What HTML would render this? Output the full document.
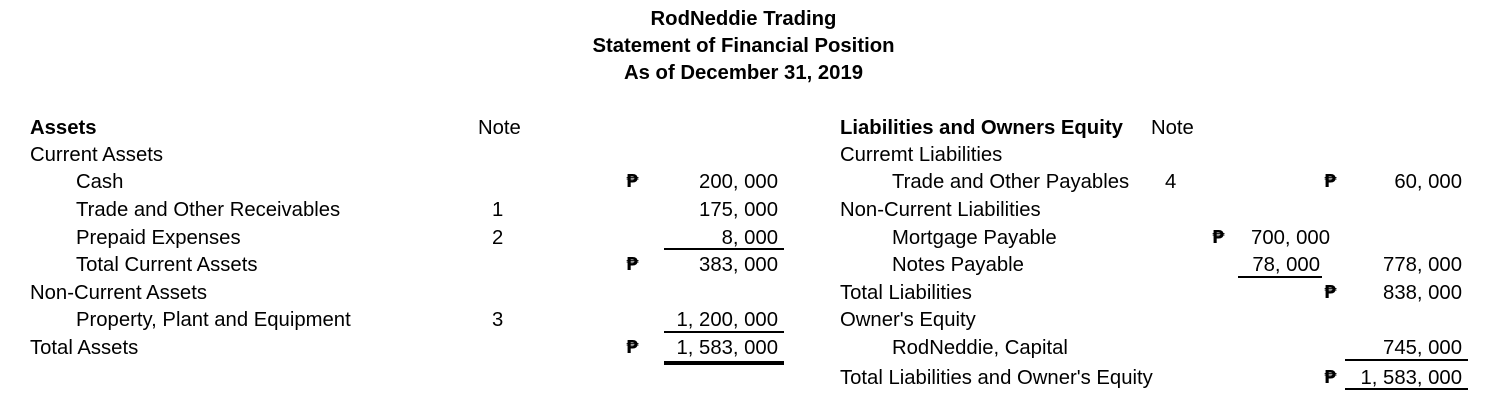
<!DOCTYPE html>
<html><head><meta charset="utf-8"><style>
body{margin:0;width:1487px;height:417px;background:#fff;position:relative;overflow:hidden;font-family:"Liberation Sans","DejaVu Sans",sans-serif;font-size:20.3px;color:#000}
.t{position:absolute;line-height:22px;white-space:nowrap;margin-top:1px}
.b{font-weight:bold}
.r{text-align:right}
.c{text-align:center}
.l{position:absolute;background:#000;height:2px}
.p{font-family:"DejaVu Sans",sans-serif;font-size:18px;font-weight:bold}
</style></head><body>
<div class="t b c" style="left:0;width:1487px;top:7px">RodNeddie Trading</div>
<div class="t b c" style="left:0;width:1487px;top:34px">Statement of Financial Position</div>
<div class="t b c" style="left:0;width:1487px;top:61px">As of December 31, 2019</div>

<div class="t b" style="left:30px;top:116px">Assets</div>
<div class="t" style="left:478px;top:116px">Note</div>
<div class="t" style="left:30px;top:143px">Current Assets</div>
<div class="t" style="left:76px;top:170px">Cash</div>
<div class="t" style="left:76px;top:198px">Trade and Other Receivables</div>
<div class="t" style="left:76px;top:226px">Prepaid Expenses</div>
<div class="t" style="left:76px;top:253px">Total Current Assets</div>
<div class="t" style="left:30px;top:281px">Non-Current Assets</div>
<div class="t" style="left:76px;top:308px">Property, Plant and Equipment</div>
<div class="t" style="left:30px;top:336px">Total Assets</div>
<div class="t" style="left:492px;top:198px">1</div>
<div class="t" style="left:492px;top:226px">2</div>
<div class="t" style="left:492px;top:308px">3</div>
<div class="t p" style="left:626px;top:170px">₱</div>
<div class="t p" style="left:626px;top:253px">₱</div>
<div class="t p" style="left:626px;top:336px">₱</div>
<div class="t r" style="left:600px;width:178px;top:170px">200, 000</div>
<div class="t r" style="left:600px;width:178px;top:198px">175, 000</div>
<div class="t r" style="left:600px;width:178px;top:226px">8, 000</div>
<div class="t r" style="left:600px;width:178px;top:253px">383, 000</div>
<div class="t r" style="left:600px;width:178px;top:308px">1, 200, 000</div>
<div class="t r" style="left:600px;width:178px;top:336px">1, 583, 000</div>
<div class="l" style="left:664px;width:120px;top:248px"></div>
<div class="l" style="left:664px;width:120px;top:331px"></div>
<div class="l" style="left:664px;width:120px;top:361px;height:4px"></div>

<div class="t b" style="left:840px;top:116px">Liabilities and Owners Equity</div>
<div class="t" style="left:1151px;top:116px">Note</div>
<div class="t" style="left:840px;top:143px">Curremt Liabilities</div>
<div class="t" style="left:892px;top:170px">Trade and Other Payables</div>
<div class="t" style="left:1165px;top:170px">4</div>
<div class="t" style="left:840px;top:198px">Non-Current Liabilities</div>
<div class="t" style="left:892px;top:226px">Mortgage Payable</div>
<div class="t" style="left:892px;top:253px">Notes Payable</div>
<div class="t" style="left:840px;top:281px">Total Liabilities</div>
<div class="t" style="left:840px;top:308px">Owner's Equity</div>
<div class="t" style="left:892px;top:336px">RodNeddie, Capital</div>
<div class="t" style="left:840px;top:366px">Total Liabilities and Owner's Equity</div>
<div class="t p" style="left:1324px;top:170px">₱</div>
<div class="t p" style="left:1212px;top:226px">₱</div>
<div class="t p" style="left:1324px;top:281px">₱</div>
<div class="t p" style="left:1324px;top:366px">₱</div>
<div class="t r" style="left:1200px;width:130px;top:226px">700, 000</div>
<div class="t r" style="left:1200px;width:120px;top:253px">78, 000</div>
<div class="t r" style="left:1300px;width:162px;top:170px">60, 000</div>
<div class="t r" style="left:1300px;width:162px;top:253px">778, 000</div>
<div class="t r" style="left:1300px;width:162px;top:281px">838, 000</div>
<div class="t r" style="left:1300px;width:162px;top:336px">745, 000</div>
<div class="t r" style="left:1300px;width:162px;top:366px">1, 583, 000</div>
<div class="l" style="left:1238px;width:84px;top:276px"></div>
<div class="l" style="left:1345px;width:123px;top:359px"></div>
<div class="l" style="left:1345px;width:123px;top:388px"></div>
</body></html>
